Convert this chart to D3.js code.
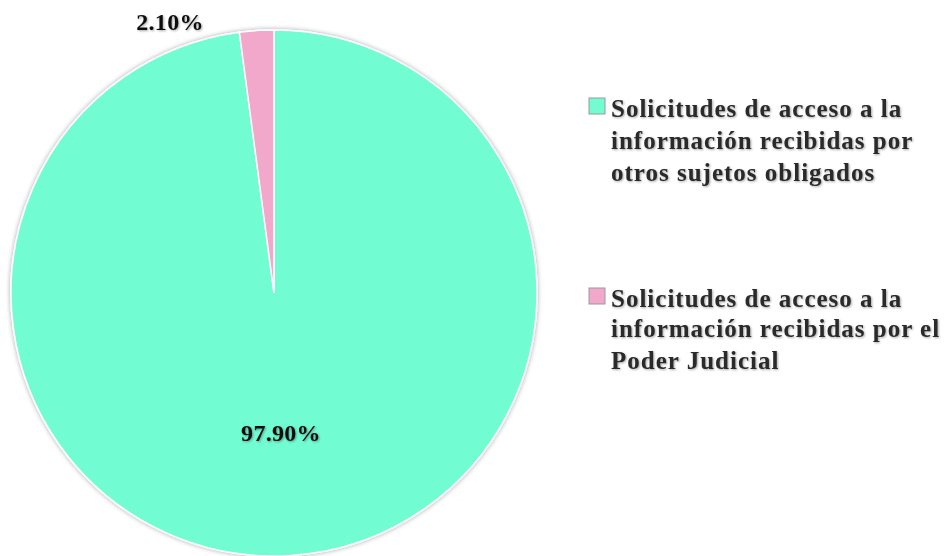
<!DOCTYPE html>
<html><head><meta charset="utf-8">
<script src="https://cdn.jsdelivr.net/npm/d3@7/dist/d3.min.js"></script>
<style>
html,body{margin:0;padding:0;background:#fff;}
svg text{font-family:"Liberation Serif","Times New Roman",serif;font-weight:bold;}
</style></head>
<body>
<svg id="chart" width="949" height="556"></svg>
<script>
const categories = [
  ["Solicitudes de acceso a la", "información recibidas por", "otros sujetos obligados"],
  ["Solicitudes de acceso a la", "información recibidas por el", "Poder Judicial"]
];
const values = [97.90, 2.10];
const labels = ["97.90%", "2.10%"];
const colors = ["#72FCD2", "#F1A8CB"];

const svg = d3.select("#chart");
const defs = svg.append("defs");
const f = defs.append("filter").attr("id","sh").attr("x","-10%").attr("y","-10%").attr("width","120%").attr("height","120%");
f.append("feGaussianBlur").attr("in","SourceAlpha").attr("stdDeviation",2.5).attr("result","b");
f.append("feOffset").attr("in","b").attr("dx",0).attr("dy",0).attr("result","o");
f.append("feComponentTransfer").attr("in","o").attr("result","o2").append("feFuncA").attr("type","linear").attr("slope",0.35);
const m = f.append("feMerge"); m.append("feMergeNode").attr("in","o2"); m.append("feMergeNode").attr("in","SourceGraphic");

const tf = defs.append("filter").attr("id","tsh").attr("x","-5%").attr("y","-20%").attr("width","110%").attr("height","140%");
tf.append("feGaussianBlur").attr("in","SourceAlpha").attr("stdDeviation",0.8).attr("result","b");
tf.append("feOffset").attr("in","b").attr("dx",1).attr("dy",1).attr("result","o");
tf.append("feComponentTransfer").attr("in","o").attr("result","o2").append("feFuncA").attr("type","linear").attr("slope",0.35);
const tm = tf.append("feMerge"); tm.append("feMergeNode").attr("in","o2"); tm.append("feMergeNode").attr("in","SourceGraphic");

const cx = 274, cy = 293, R = 263;
const pie = d3.pie().sort(null).value(d => d);
const arcs = pie(values);
const arc = d3.arc().innerRadius(0).outerRadius(R);

const g = svg.append("g").attr("transform", `translate(${cx},${cy})`);
g.append("g").attr("filter","url(#sh)").selectAll("path").data(arcs).join("path")
  .attr("d", arc).attr("fill", (d,i) => colors[i])
  .attr("stroke", "#fff").attr("stroke-width", 1.5);

// labels
const labelPos = [[281-cx, 441-cy], [170-cx, 30-cy]];
g.selectAll("text.lbl").data(arcs).join("text").attr("class","lbl")
  .attr("x", (d,i) => labelPos[i][0])
  .attr("y", (d,i) => labelPos[i][1])
  .attr("text-anchor","middle").attr("font-size", 24).attr("fill","#111")
  .attr("letter-spacing", 0.3)
  .attr("filter","url(#tsh)")
  .text((d,i) => labels[i]);

// legend
const legY = [98, 288];
const lg = svg.append("g");
categories.forEach((lines, i) => {
  const e = lg.append("g").attr("transform", `translate(589,${legY[i]})`);
  e.append("rect").attr("x",0).attr("y",0).attr("width",16).attr("height",16)
    .attr("fill", colors[i]).attr("stroke","#999").attr("stroke-width",1);
  const t = e.append("text").attr("x",22).attr("y",19).attr("font-size",25).attr("fill","#2a2a2a")
    .attr("letter-spacing", 1)
    .attr("filter","url(#tsh)");
  lines.forEach((l, j) => t.append("tspan").attr("x",22).attr("dy", j === 0 ? 0 : (i === 1 && j === 1 ? 30 : 32)).text(l));
});
</script>
</body></html>
